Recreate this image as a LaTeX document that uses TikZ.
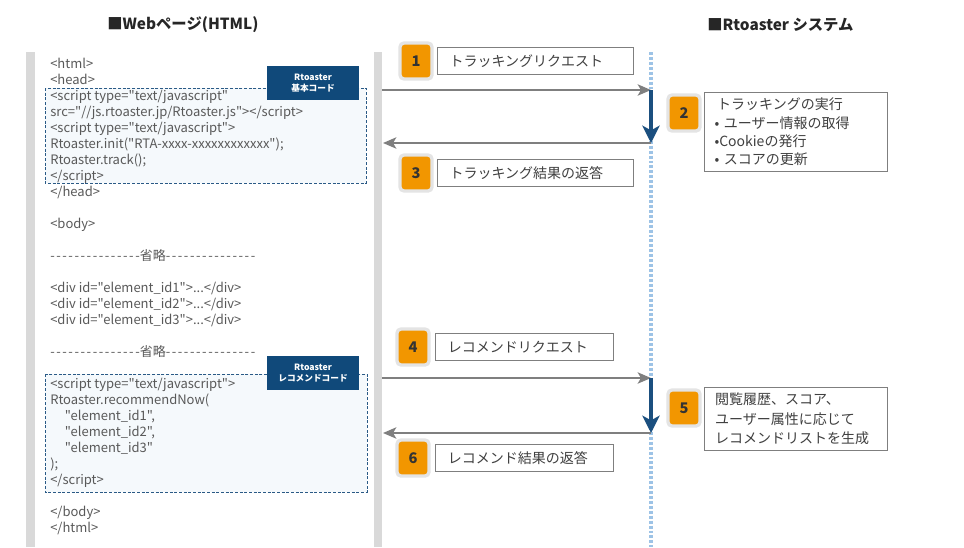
\documentclass[tikz,border=0pt]{standalone}
\usepackage{fontspec}
\setmainfont{Noto Sans CJK JP}[Ligatures=TeXOff]
\usetikzlibrary{positioning,arrows.meta}
\definecolor{barGray}{HTML}{D9D9D9}
\definecolor{codeGray}{HTML}{595959}
\definecolor{codeBg}{HTML}{F5F9FC}
\definecolor{dashBlue}{HTML}{2A5A86}
\definecolor{tagBlue}{HTML}{10497A}
\definecolor{badgeOrange}{HTML}{F29600}
\definecolor{badgeRing}{HTML}{E4E4E4}
\definecolor{boxGray}{HTML}{7F7F7F}
\definecolor{stepText}{HTML}{404040}
\definecolor{downBlue}{HTML}{1B4F7F}
\definecolor{dotBlue}{HTML}{9DC3E6}
\newcommand{\skipline}{{\addfontfeature{LetterSpace=12}---------------}省略{\addfontfeature{LetterSpace=12}---------------}}

\begin{document}
\begin{tikzpicture}[x=0.75pt,y=-0.75pt,
    codeline/.style={anchor=base west,inner sep=0pt,text=codeGray,font=\fontsize{9.75}{12}\selectfont},
    codearea/.style={draw=dashBlue,fill=codeBg,line width=0.75pt,dash pattern=on 2.2pt off 1.3pt},
    codetag/.style={fill=tagBlue,text=white,align=center,inner sep=0pt,
      minimum width=69pt,minimum height=25.5pt,font=\bfseries\fontsize{6.5}{8.5}\selectfont},
    numbadge/.style={fill=badgeOrange,draw=badgeRing,line width=2.5pt,rounded corners=3pt,
      minimum width=24pt,minimum height=27pt,inner sep=0pt,text=black!80,font=\bfseries\fontsize{11}{13}\selectfont},
    stepbox/.style={draw=boxGray,fill=white,line width=0.75pt,align=left,inner xsep=9pt,inner ysep=0pt,
      minimum height=20.5pt,text=stepText,font=\fontsize{10.5}{13.7}\selectfont},
    heading/.style={anchor=west,inner sep=0pt,text=black!85,font=\bfseries\fontsize{11.5}{14}\selectfont},
    callarrow/.style={draw=boxGray,line width=1.5pt,-{Stealth[length=10pt,width=8.5pt,inset=2.5pt]}},
    procarrow/.style={draw=downBlue,line width=3pt,-{Stealth[length=13pt,width=13pt,inset=3.5pt]}},
    lifeline/.style={draw=dotBlue,line width=2.4pt,dash pattern=on 2.2pt off 1.5pt}]
  \useasboundingbox (0,0) rectangle (964,547);

  % Titel
  \node[heading] (webtitle) at (107,25) {■Webページ(HTML)};
  \node[heading] (systitle) at (707,25) {■Rtoaster システム};

  % Seite (HTML)
  \fill[barGray] (26,52) rectangle (35,547);
  \fill[barGray] (374,52) rectangle (382,547);
  \draw[lifeline] (651,52) -- (651,547);
  \draw[codearea] (45,88) rectangle (366,183);
  \draw[codearea] (45,374) rectangle (367,492);

  % Quelltext
  \foreach \yy/\ln [count=\k] in {
    68/{<html>}, 84/{<head>},
    100/{<script type="text/javascript"},
    116/{src="//js.rtoaster.jp/Rtoaster.js"></script>},
    132/{<script type="text/javascript">},
    148/{Rtoaster.init("RTA-xxxx-xxxxxxxxxxxx");},
    164/{Rtoaster.track();}, 180/{</script>}, 196/{</head>},
    228/{<body>},
    260/{\skipline},
    292/{<div id="element\_id1">...</div>},
    308/{<div id="element\_id2">...</div>},
    324/{<div id="element\_id3">...</div>},
    356/{\skipline},
    388/{<script type="text/javascript">},
    404/{Rtoaster.recommendNow(},
    420/{\hspace*{11pt}"element\_id1",},
    436/{\hspace*{11pt}"element\_id2",},
    452/{\hspace*{11pt}"element\_id3"},
    468/{);}, 484/{</script>},
    516/{</body>}, 532/{</html>}}{
    \node[codeline] (code\k) at (50,\yy) {\ln};}

  \node[codetag] (tagbase) at (313,83) {Rtoaster\\基本コード};
  \node[codetag] (tagreco) at (313,373) {Rtoaster\\レコメンドコード};

  % Schritte
  \node[numbadge] (b1) at (416,61) {1};
  \node[numbadge] (b2) at (684,113) {2};
  \node[numbadge] (b3) at (416,173) {3};
  \node[numbadge] (b4) at (413,347) {4};
  \node[numbadge] (b5) at (684,408) {5};
  \node[numbadge] (b6) at (413,458) {6};

  \node[stepbox,text width=129pt,right=2.5pt of b1] (s1) {トラッキングリクエスト};
  \node[stepbox,text width=129pt,right=2.5pt of b3] (s3) {トラッキング結果の返答};
  \node[stepbox,text width=115pt,right=3.5pt of b4] (s4) {レコメンドリクエスト};
  \node[stepbox,text width=115pt,right=3.5pt of b6] (s6) {レコメンド結果の返答};
  \node[stepbox,anchor=north west,inner xsep=7.5pt,text width=122pt,minimum height=59pt] (s2) at (704,92)
    {\hspace*{2pt}トラッキングの実行\\• ユーザー情報の取得\\•Cookieの発行\\• スコアの更新};
  \node[stepbox,anchor=north west,inner xsep=8pt,text width=121pt,minimum height=47pt,
    font=\fontsize{10.5}{14.6}\selectfont] (s5) at (704,387)
    {閲覧履歴、スコア、\\ユーザー属性に応じて\\レコメンドリストを生成};

  % Pfeile
  \coordinate (web1) at (382,90);
  \coordinate (sys1) at (651,90);
  \coordinate (sys3) at (651,143);
  \coordinate (web3) at (383,143);
  \coordinate (web4) at (382,378);
  \coordinate (sys4) at (651,378);
  \coordinate (sys6) at (651,433);
  \coordinate (web6) at (383,433);
  \draw[callarrow] (web1) -- (sys1);
  \draw[procarrow] (sys1) -- (sys3);
  \draw[callarrow] (sys3) -- (web3);
  \draw[callarrow] (web4) -- (sys4);
  \draw[procarrow] (sys4) -- (sys6);
  \draw[callarrow] (sys6) -- (web6);
\end{tikzpicture}
\end{document}
